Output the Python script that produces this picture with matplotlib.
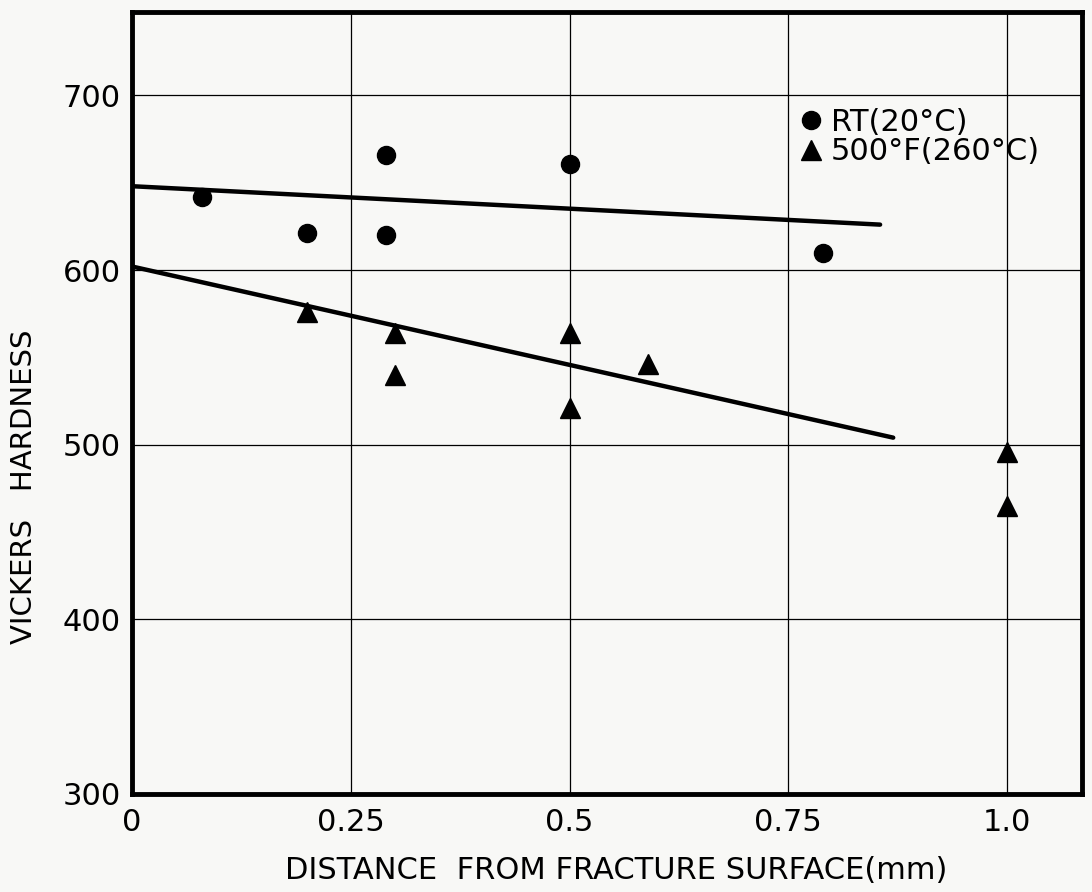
import numpy as np
import matplotlib
matplotlib.use('Agg')
import matplotlib.pyplot as plt

# room temperature points (circles)
rt_x = [0.08, 0.2, 0.29, 0.29, 0.5, 0.79]
rt_y = [642, 621, 666, 620, 661, 610]

# 500F (260C) points (triangles)
ht_x = [0.2, 0.3, 0.3, 0.5, 0.5, 0.59, 1.0, 1.0]
ht_y = [576, 564, 540, 564, 521, 546, 496, 465]

# fitted lines (end points)
rt_line_x = [0.0, 0.855]
rt_line_y = [648, 626]
ht_line_x = [0.0, 0.87]
ht_line_y = [602, 504]

xticks = [0, 0.25, 0.5, 0.75, 1.0]
xtick_labels = ['0', '0.25', '0.5', '0.75', '1.0']
yticks = [300, 400, 500, 600, 700]

bg = '#f8f8f6'
fig = plt.figure(figsize=(10.92, 8.92), dpi=100, facecolor=bg)
ax = fig.add_axes([0.121, 0.110, 0.870, 0.877], facecolor=bg)

ax.plot(rt_line_x, rt_line_y, color='black', lw=3.2, solid_capstyle='round')
ax.plot(ht_line_x, ht_line_y, color='black', lw=3.2, solid_capstyle='round')
ax.plot(rt_x, rt_y, 'o', color='black', markersize=13, ls='none', label='RT(20°C)')
ax.plot(ht_x, ht_y, '^', color='black', markersize=14, ls='none', label='500°F(260°C)')

ax.set_xlim(0, 1.086)
ax.set_ylim(300, 748)
ax.set_xticks(xticks)
ax.set_xticklabels(xtick_labels)
ax.set_yticks(yticks)
ax.grid(True, color='black', lw=0.9)
ax.set_axisbelow(True)
ax.tick_params(length=0, labelsize=22)
ax.tick_params(axis='x', pad=10)
ax.tick_params(axis='y', pad=8)
for s in ax.spines.values():
    s.set_linewidth(3.5)

ax.set_xlabel('DISTANCE  FROM FRACTURE SURFACE(mm)', fontsize=22, labelpad=14)
ax.xaxis.label.set_x(0.509)
ax.set_ylabel('VICKERS   HARDNESS', fontsize=21)
ax.yaxis.set_label_coords(-0.099, 0.392)

ax.legend(loc='upper left', bbox_to_anchor=(0.703, 0.877), frameon=False,
          fontsize=22, handlelength=0.7, handletextpad=0.3, labelspacing=0.02,
          borderpad=0, borderaxespad=0)

fig.savefig('out.png', dpi=100, facecolor=bg)
